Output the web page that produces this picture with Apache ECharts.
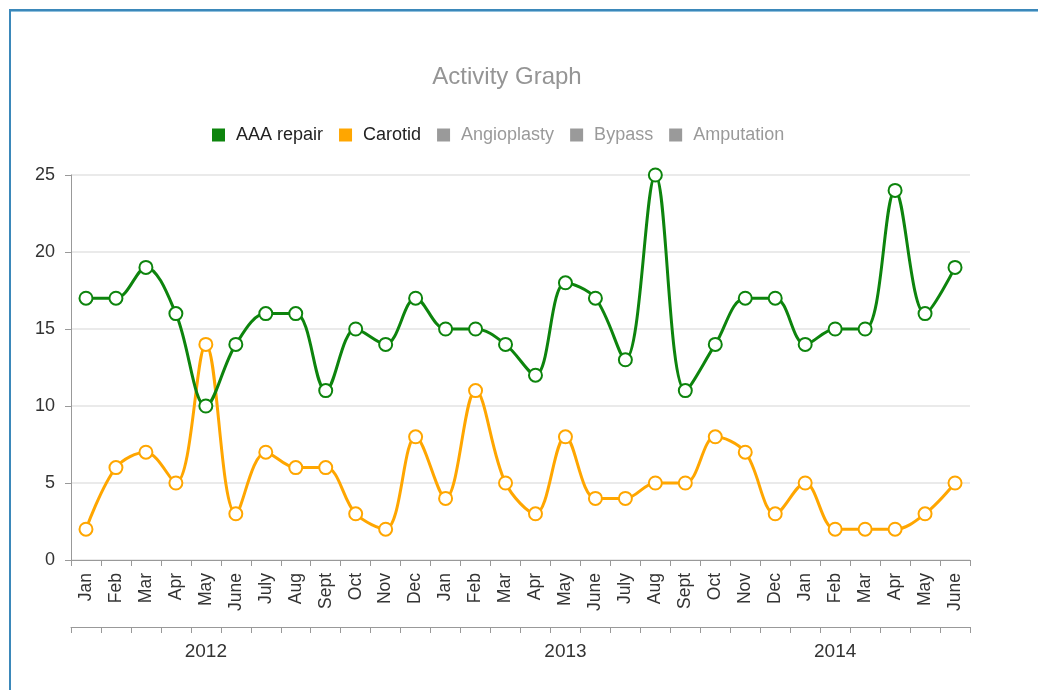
<!DOCTYPE html>
<html><head><meta charset="utf-8">
<script src="https://cdn.jsdelivr.net/npm/echarts@6/dist/echarts.min.js"></script>
<style>
html,body{margin:0;padding:0;background:#fff;}
#frame{position:absolute;left:9px;top:9px;width:1040px;height:700px;border-left:2px solid #3b88ba;border-top:2px solid #3b88ba;box-shadow:inset 0 1px 0 #8fc0dd;}
#c{position:absolute;left:0;top:0;width:1038px;height:690px;}
</style></head>
<body><div id="frame"></div><div id="c"></div>
<script>
const months = ['Jan','Feb','Mar','Apr','May','June','July','Aug','Sept','Oct','Nov','Dec',
  'Jan','Feb','Mar','Apr','May','June','July','Aug','Sept','Oct','Nov','Dec',
  'Jan','Feb','Mar','Apr','May','June'];
const aaaRepair = [17,17,19,16,10,14,16,16,11,15,14,17,15,15,14,12,18,17,13,25,11,14,17,17,14,15,15,24,16,19];
const carotid = [2,6,7,5,14,3,7,6,6,3,2,8,4,11,5,3,8,4,4,5,5,8,7,3,5,2,2,2,3,5];
const seriesNames = ['AAA repair','Carotid','Angioplasty','Bypass','Amputation'];
const years = ['2012','2013','2014'];
const yearLabelIndex = [4,16,25];
const yTicks = [0,5,10,15,20,25];

const yearCats = months.map((m,i)=>{ const k = yearLabelIndex.indexOf(i); return k>=0 ? years[k] : ''; });
const chart = echarts.init(document.getElementById('c'));
const font = 'Arial, "Liberation Sans", sans-serif';
chart.setOption({
  animation:false,
  textStyle:{fontFamily:font},
  title:{text:'Activity Graph',left:502,textAlign:'center',top:60,
    textStyle:{color:'#959595',fontSize:24,fontWeight:'normal',fontFamily:font}},
  legend:{left:207,top:121,itemWidth:13,itemHeight:13,itemGap:16,icon:'rect',
    data:seriesNames,
    selected:{'Angioplasty':false,'Bypass':false,'Amputation':false},
    inactiveColor:'#9a9a9a',
    textStyle:{fontSize:18,color:'#222',fontFamily:font,padding:[0,0,0,6]}},
  grid:{left:71,right:68,top:175,bottom:130},
  xAxis:[{type:'category',data:months,boundaryGap:true,position:'bottom',
      axisLine:{lineStyle:{color:'#999',width:1}},
      axisTick:{show:true,interval:0,length:6,lineStyle:{color:'#999'}},
      axisLabel:{interval:0,rotate:90,fontSize:17.5,color:'#333',margin:13,fontFamily:font}},
    {type:'category',data:yearCats,boundaryGap:true,position:'bottom',offset:67,
      axisLine:{lineStyle:{color:'#999',width:1}},
      axisTick:{show:true,interval:0,length:6,lineStyle:{color:'#999'}},
      axisLabel:{interval:0,fontSize:19,color:'#333',margin:15,fontFamily:font}}],
  yAxis:{type:'value',min:yTicks[0],max:yTicks[yTicks.length-1],interval:5,
    axisLine:{show:true,lineStyle:{color:'#999'}},
    axisTick:{show:true,length:6,lineStyle:{color:'#999'}},
    axisLabel:{fontSize:18,color:'#333',margin:16,fontFamily:font},
    splitLine:{lineStyle:{color:'#e3e3e3',width:1.5}}},
  series:[
    {name:'AAA repair',type:'line',data:aaaRepair,smooth:0.35,symbol:'emptyCircle',symbolSize:13,
      itemStyle:{color:'#0d840d',borderWidth:3},lineStyle:{width:3,color:'#0d840d'},z:3},
    {name:'Carotid',type:'line',data:carotid,smooth:0.35,symbol:'emptyCircle',symbolSize:13,
      itemStyle:{color:'#ffa600',borderWidth:3},lineStyle:{width:3,color:'#ffa600'},z:2},
    {name:'Angioplasty',type:'line',data:[],itemStyle:{color:'#8c8c8c'}},
    {name:'Bypass',type:'line',data:[],itemStyle:{color:'#8c8c8c'}},
    {name:'Amputation',type:'line',data:[],itemStyle:{color:'#8c8c8c'}}
  ]
});
</script></body></html>
